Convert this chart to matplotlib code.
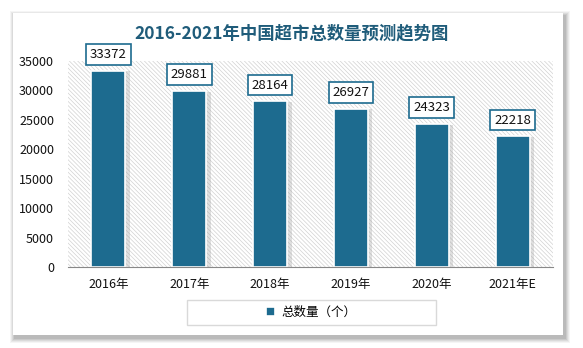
import matplotlib.pyplot as plt
from matplotlib.patches import Rectangle
import numpy as np

plt.rcParams['font.family'] = ['Noto Sans CJK SC', 'DejaVu Sans']
plt.rcParams['hatch.linewidth'] = 0.5
plt.rcParams['hatch.color'] = '#d2d2d2'

years = ['2016年', '2017年', '2018年', '2019年', '2020年', '2021年E']
counts = [33372, 29881, 28164, 26927, 24323, 22218]
series_name = '总数量（个）'
title = '2016-2021年中国超市总数量预测趋势图'

bar_color = '#1d6b8f'
title_color = '#1f5c7a'

fig = plt.figure(figsize=(5.83, 3.48), dpi=100)
fig.patch.set_facecolor('white')

# card shadow + card
for i, a in enumerate([0.04, 0.05, 0.06, 0.07, 0.08]):
    d = (5 - i) * 1.0
    fig.patches.append(Rectangle(((13 + 2 - d) / 583, (13 - 3 - d) / 348),
                                 (550 + 2 * d) / 583, (322 + 2 * d) / 348,
                                 transform=fig.transFigure, facecolor='black',
                                 edgecolor='none', alpha=a, zorder=0))
fig.patches.append(Rectangle((13 / 583, 13 / 348), 550 / 583, 322 / 348,
                             transform=fig.transFigure, facecolor='white',
                             edgecolor='none', zorder=0.5))
# legend box
fig.patches.append(Rectangle((187 / 583, 23 / 348), 249 / 583, 25 / 348,
                             transform=fig.transFigure, facecolor='white',
                             edgecolor='#d9d9d9', linewidth=1, zorder=1))

ax = fig.add_axes([68 / 583, 81 / 348, 485 / 583, 206 / 348])
ax.set_zorder(3)
ax.set_facecolor('none')
x = np.arange(len(years))
ax.set_xlim(-0.5, len(years) - 0.5)
ax.set_ylim(0, 35000)

# hatched plot background
ax.add_patch(Rectangle((0, 0), 1, 1, transform=ax.transAxes, facecolor='white',
                       edgecolor='#d2d2d2', hatch='\\' * 8, linewidth=0, zorder=0))

# bar shadows
ax.bar(x + 0.045, np.array(counts) - 150, width=0.44, bottom=0, color='#999999',
       alpha=0.3, zorder=1, linewidth=0)
ax.bar(x, counts, width=0.42, color=bar_color, edgecolor='white', linewidth=1.2,
       zorder=2, label=series_name)

for xi, v in zip(x, counts):
    ax.annotate(str(v), (xi, v), xytext=(0, 7), textcoords='offset points',
                ha='center', va='bottom', fontsize=9.5, color='#111111',
                bbox=dict(boxstyle='square,pad=0.3', facecolor='white',
                          edgecolor=bar_color, linewidth=1.2), zorder=3)

ax.set_yticks(np.arange(0, 35001, 5000))
ax.set_xticks(x)
ax.set_xticklabels(years)
ax.tick_params(axis='both', length=0, labelsize=9, colors='#111111')
ax.tick_params(axis='y', pad=10)
ax.tick_params(axis='x', pad=8)
for s in ['top', 'right', 'left']:
    ax.spines[s].set_visible(False)
ax.spines['bottom'].set_color('#888888')
ax.spines['bottom'].set_zorder(4)

fig.text(0.5, 1 - 33 / 348, title, ha='center', va='center', fontsize=12.5,
         fontweight='bold', color=title_color, zorder=5)

leg = fig.legend(loc='center', bbox_to_anchor=(311 / 583, 36 / 348), frameon=False,
                 fontsize=9, handlelength=0.7, handleheight=0.7, handletextpad=0.5)
leg.set_zorder(5)

fig.savefig('out.png', dpi=100)
